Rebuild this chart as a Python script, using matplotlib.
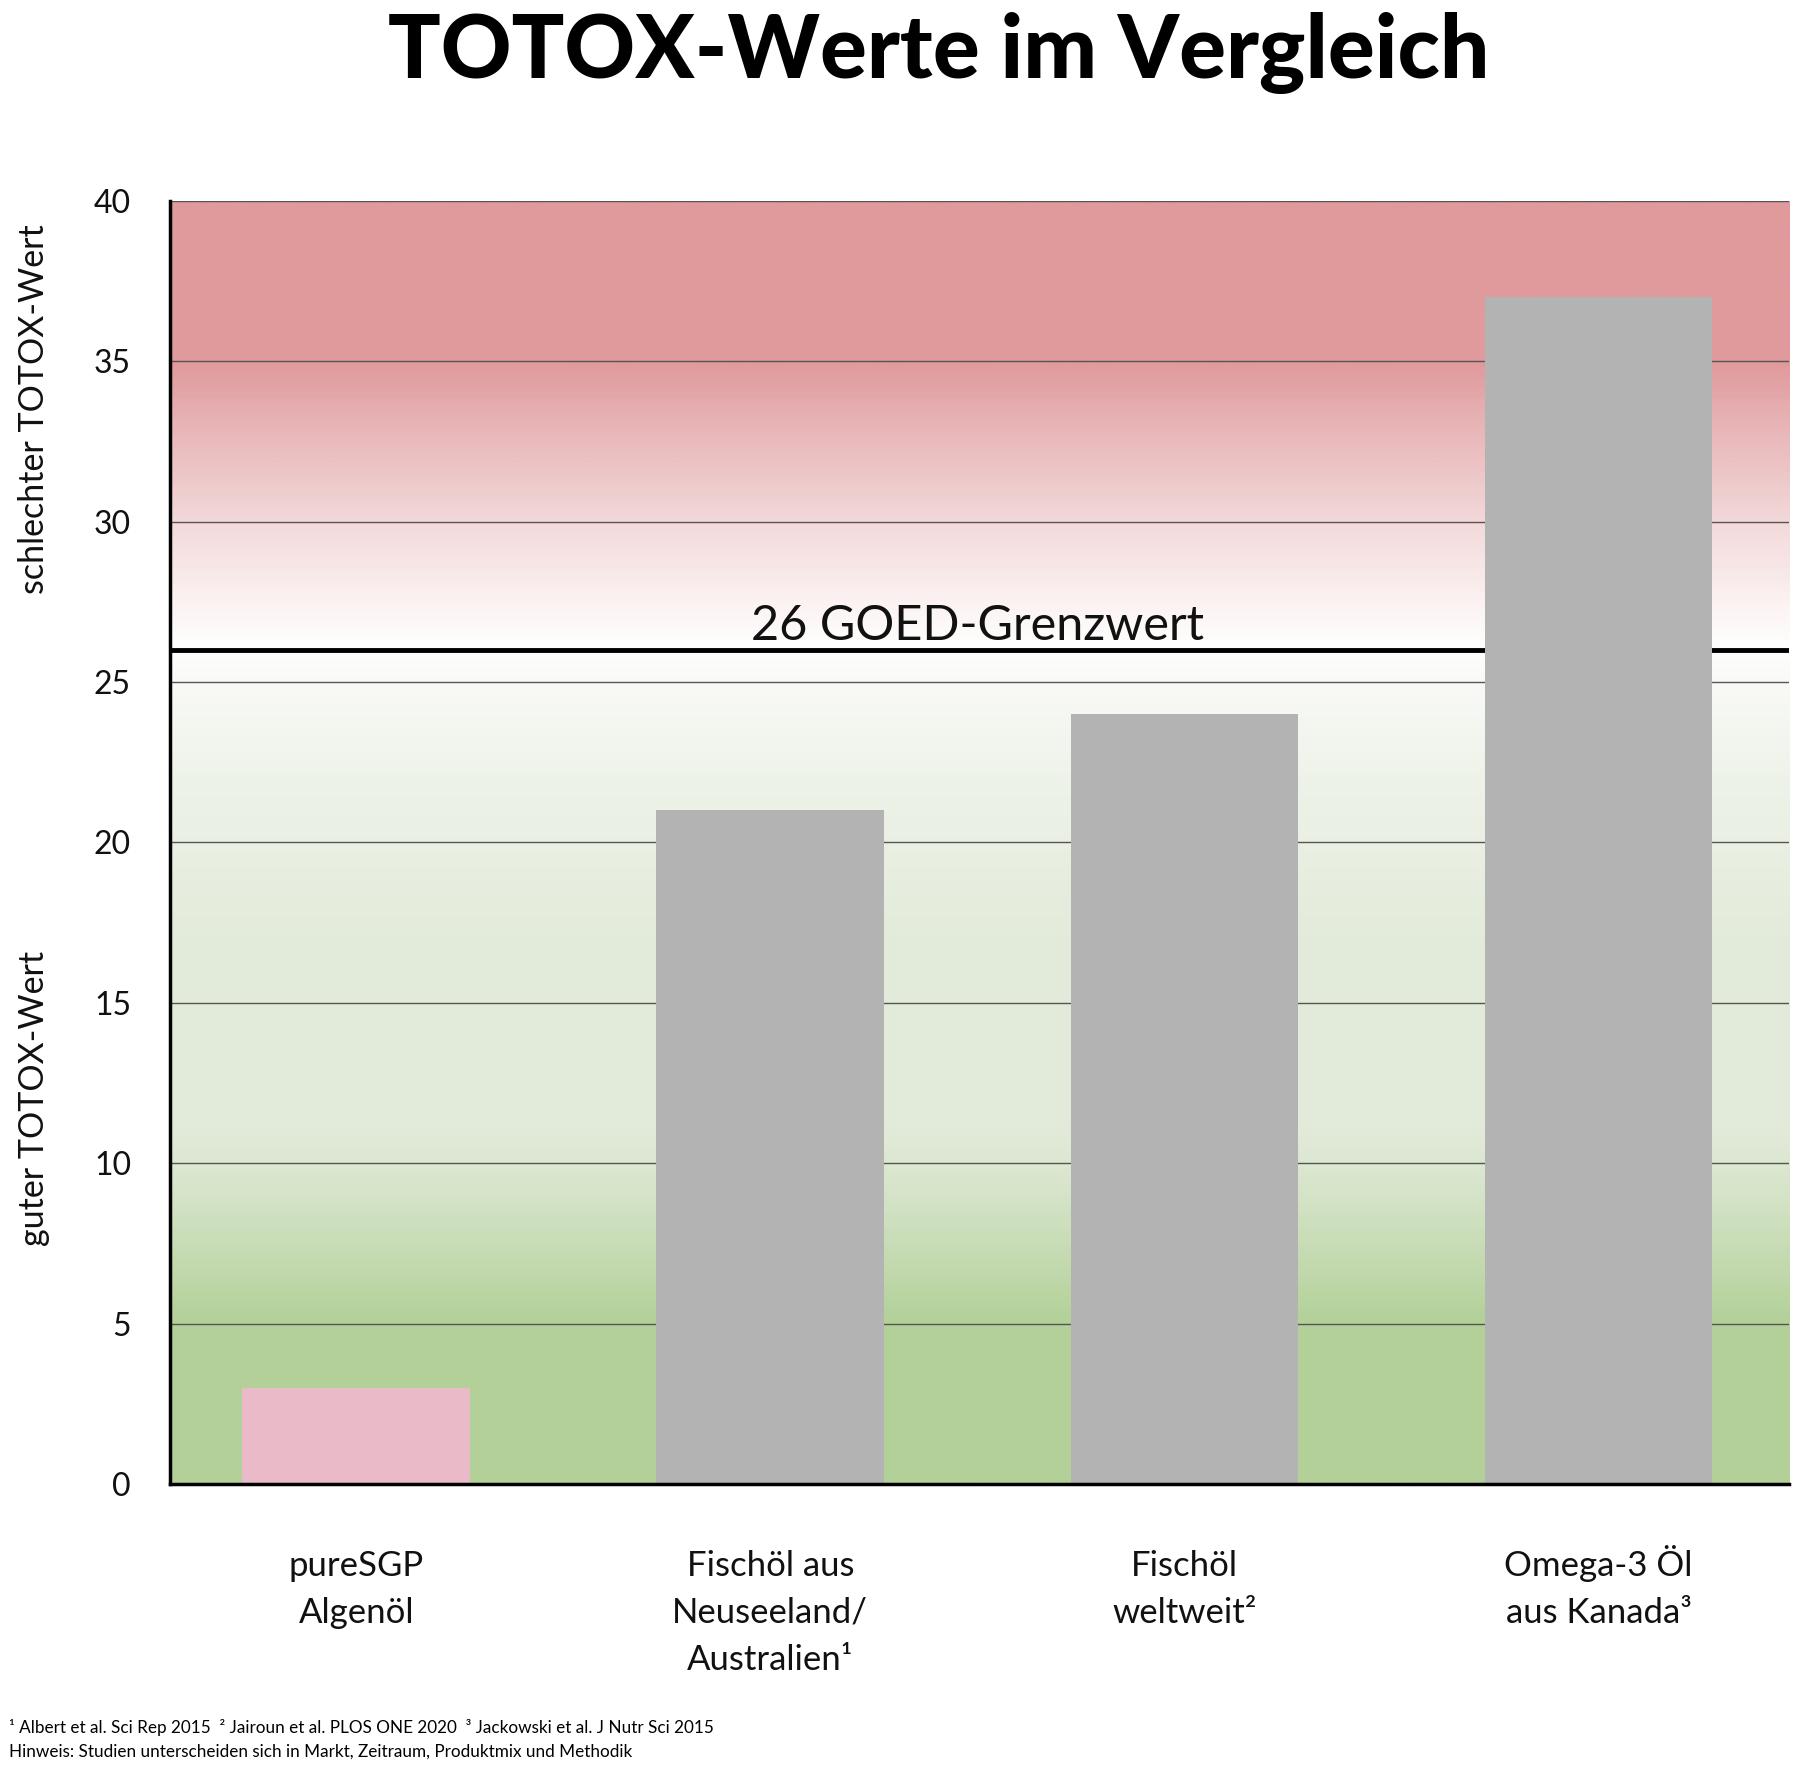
import numpy as np
import matplotlib
matplotlib.use('Agg')
import matplotlib.pyplot as plt
from matplotlib.colors import LinearSegmentedColormap
from matplotlib.transforms import blended_transform_factory

plt.rcParams['font.family'] = ['Lato', 'DejaVu Sans']

categories = ['pureSGP\nAlgenöl', 'Fischöl aus\nNeuseeland/\nAustralien¹',
              'Fischöl\nweltweit²', 'Omega-3 Öl\naus Kanada³']
values = [3, 21, 24, 37]
bar_colors = ['#ebbac8', '#b3b3b3', '#b3b3b3', '#b3b3b3']
limit = 26
yticks = [0, 5, 10, 15, 20, 25, 30, 35, 40]
title = 'TOTOX-Werte im Vergleich'
footnote1 = '¹ Albert et al. Sci Rep 2015  ² Jairoun et al. PLOS ONE 2020  ³ Jackowski et al. J Nutr Sci 2015'
footnote2 = 'Hinweis: Studien unterscheiden sich in Markt, Zeitraum, Produktmix und Methodik'

# background gradient stops (value, colour)
grad_stops = [(0, '#b2d098'), (5, '#b3d199'), (9, '#d6e4c9'), (11, '#e2ebd9'),
              (17, '#e3ebda'), (22, '#eef3e9'), (25.5, '#fbfbf9'), (26, '#ffffff'),
              (27.5, '#fcf2f2'), (30, '#f3d9da'), (33, '#e8b5b7'), (35, '#e09a9c'),
              (40, '#e09a9c')]

fig = plt.figure(figsize=(18, 17.69), dpi=100)
ax = fig.add_axes([0.0944, 0.1611, 0.8995, 0.7253])

ymax = 40
xlim = (-0.45, 3.46)
cmap = LinearSegmentedColormap.from_list(
    'bg', [(v / ymax, c) for v, c in grad_stops])
grad = np.linspace(0, 1, 500).reshape(-1, 1)
ax.imshow(grad, cmap=cmap, aspect='auto', origin='lower',
          extent=[xlim[0], xlim[1], 0, ymax], zorder=0)

for y in yticks[1:]:
    ax.axhline(y, color='#555555', lw=1, zorder=1)
ax.axhline(limit, color='black', lw=3.5, zorder=2)

x = np.arange(len(values))
ax.bar(x, values, width=0.55, color=bar_colors, zorder=3)

ax.text(1.5, limit + 0.3, f'{limit} GOED-Grenzwert', ha='center', va='baseline',
        fontsize=35, color='#111111', zorder=4)

ax.set_xlim(*xlim)
ax.set_ylim(0, ymax)
ax.set_yticks(yticks)
ax.set_yticklabels([str(t) for t in yticks], fontsize=23, color='#111111')
ax.set_xticks(x)
ax.set_xticklabels([])
ax.tick_params(axis='y', length=0, pad=28)
ax.tick_params(axis='x', length=0)

# category labels, one text per line so baselines line up
trans = blended_transform_factory(ax.transData, ax.transAxes)
line_y = [-0.0717, -0.1083, -0.145]
for xi, lab in zip(x, categories):
    for k, line in enumerate(lab.split('\n')):
        ax.text(xi, line_y[k], line, transform=trans, ha='center', va='baseline',
                fontsize=25, color='#111111')

for s in ['top', 'right']:
    ax.spines[s].set_visible(False)
for s in ['left', 'bottom']:
    ax.spines[s].set_linewidth(2.5)
    ax.spines[s].set_color('black')
    ax.spines[s].set_zorder(5)

fig.text(0.5217, 0.956, title, ha='center', va='baseline', fontsize=63, fontweight='black')

fig.text(0.019, 0.769, 'schlechter TOTOX-Wert', rotation=90, ha='center', va='center',
         fontsize=24.5, color='#111111')
fig.text(0.019, 0.379, 'guter TOTOX-Wert', rotation=90, ha='center', va='center',
         fontsize=24.5, color='#111111')

fig.text(0.005, 1 - 1733 / 1769, footnote1, ha='left', va='baseline', fontsize=12.3)
fig.text(0.005, 1 - 1757 / 1769, footnote2, ha='left', va='baseline', fontsize=12.3)

fig.savefig('out.png', dpi=100)
